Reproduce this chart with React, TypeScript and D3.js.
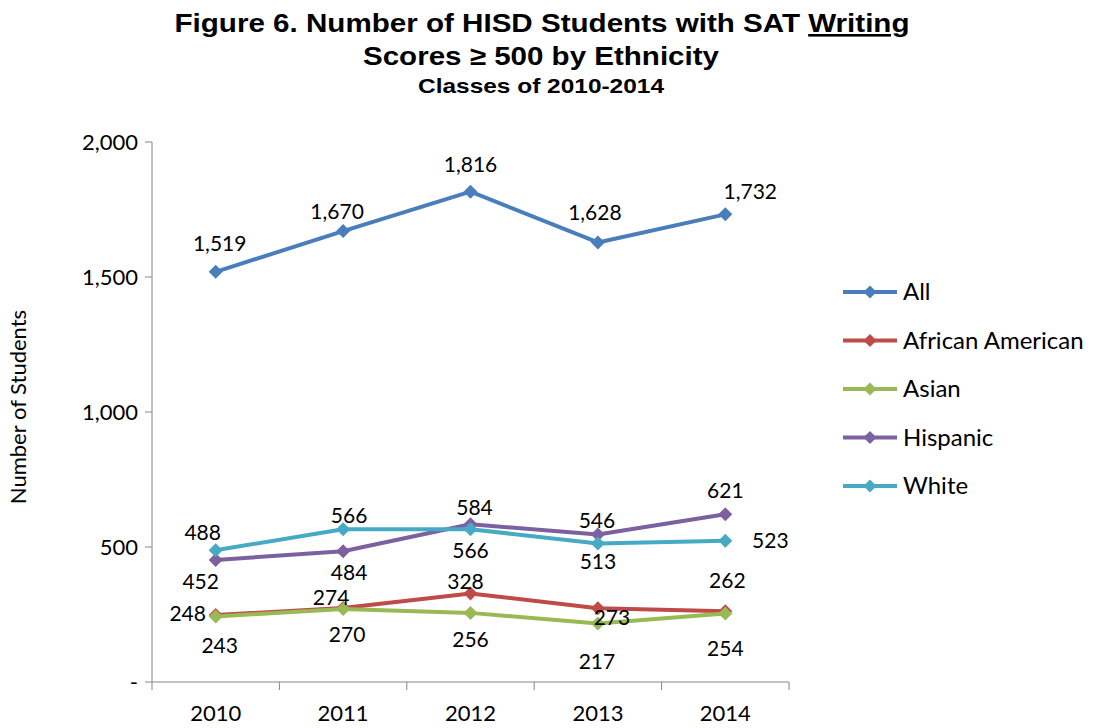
import React from "react";
import * as d3 from "d3";

const years = ["2010", "2011", "2012", "2013", "2014"];
const seriesNames = ["All", "African American", "Asian", "Hispanic", "White"];
const allValues = [1519, 1670, 1816, 1628, 1732];
const africanAmericanValues = [248, 274, 328, 273, 262];
const asianValues = [243, 270, 256, 217, 254];
const hispanicValues = [452, 484, 584, 546, 621];
const whiteValues = [488, 566, 566, 513, 523];
const yTicks = [0, 500, 1000, 1500, 2000];

const colors = ["#4A7EBB", "#BE4B48", "#98B954", "#7D60A0", "#46AAC5"];

// label nudges [dx, dy] from each point, matching the hand-placed labels
const labelNudge = [
  [[4, -28], [-6, -19], [0, -27], [-3, -30], [25, -23]],
  [[-28, -1], [-12, -10], [-5, -12], [14, 9], [2, -31]],
  [[4, 29], [4, 26], [0, 27], [-1, 38], [0, 35]],
  [[-15, 22], [6, 21], [4, -17], [-1, -14], [0, -24]],
  [[-13, -18], [6, -14], [0, 21], [0, 18], [45, 0]],
];

const W = 1097;
const H = 728;
const left = 152;
const right = 789;
const top = 142;
const bottom = 682;

export default function App() {
  const series = [allValues, africanAmericanValues, asianValues, hispanicValues, whiteValues];
  const x = d3.scaleBand().domain(years).range([left, right]);
  const y = d3.scaleLinear().domain([0, 2000]).range([bottom, top]);
  const cx = (yr: string) => (x(yr) as number) + x.bandwidth() / 2;
  const line = d3
    .line<number>()
    .x((_, i) => cx(years[i]))
    .y((d) => y(d));
  const fmt = d3.format(",");
  const diamond = (px: number, py: number, r = 7) =>
    `M${px},${py - r}L${px + r},${py}L${px},${py + r}L${px - r},${py}Z`;
  const axisColor = "#868686";
  const labelFont = "Lato, 'DejaVu Sans', sans-serif";

  return (
    <svg
      width={W}
      height={H}
      style={{ position: "absolute", left: 0, top: 0, background: "#fff" }}
    >
      <g fontFamily="'Liberation Sans', Arial, sans-serif" fontWeight="bold" textAnchor="middle" fill="#000">
        <text x={542} y={32} fontSize={26} textLength={735} lengthAdjust="spacingAndGlyphs">
          Figure 6. Number of HISD Students with SAT{" "}
          <tspan style={{ textDecoration: "underline" }}>Writing</tspan>
        </text>
        <text x={541} y={65} fontSize={26} textLength={356} lengthAdjust="spacingAndGlyphs">
          Scores ≥ 500 by Ethnicity
        </text>
        <text x={541} y={93} fontSize={21} textLength={246} lengthAdjust="spacingAndGlyphs">
          Classes of 2010-2014
        </text>
      </g>

      {/* y axis */}
      <line x1={left} x2={left} y1={top} y2={bottom} stroke={axisColor} strokeWidth={1} />
      {yTicks.map((t) => (
        <g key={t}>
          <line x1={left - 7} x2={left} y1={y(t)} y2={y(t)} stroke={axisColor} />
          <text
            x={left - 14}
            y={y(t)}
            dy="0.35em"
            textAnchor="end"
            fontSize={22}
            fontFamily={labelFont}
            fill="#000"
          >
            {t === 0 ? "-" : fmt(t)}
          </text>
        </g>
      ))}
      <text
        transform={`translate(26,${(top + bottom) / 2 - 5}) rotate(-90)`}
        textAnchor="middle"
        fontSize={22}
        fontFamily={labelFont}
        fill="#000"
      >
        Number of Students
      </text>

      {/* x axis */}
      <line x1={left} x2={right} y1={bottom} y2={bottom} stroke={axisColor} />
      {years.map((yr) => (
        <line
          key={"t" + yr}
          x1={x(yr) as number}
          x2={x(yr) as number}
          y1={bottom}
          y2={bottom + 8}
          stroke={axisColor}
        />
      ))}
      <line x1={right} x2={right} y1={bottom} y2={bottom + 8} stroke={axisColor} />
      {years.map((yr) => (
        <text
          key={"l" + yr}
          x={cx(yr)}
          y={721}
          textAnchor="middle"
          fontSize={22}
          fontFamily={labelFont}
          fill="#000"
        >
          {yr}
        </text>
      ))}

      {/* series */}
      {series.map((vals, s) => (
        <g key={seriesNames[s]}>
          <path d={line(vals) || ""} fill="none" stroke={colors[s]} strokeWidth={4} strokeLinejoin="round" />
          {vals.map((v, i) => (
            <path key={i} d={diamond(cx(years[i]), y(v))} fill={colors[s]} />
          ))}
        </g>
      ))}
      {series.map((vals, s) =>
        vals.map((v, i) => (
          <text
            key={`lab${s}-${i}`}
            x={cx(years[i]) + labelNudge[s][i][0]}
            y={y(v) + labelNudge[s][i][1]}
            dy="0.35em"
            textAnchor="middle"
            fontSize={21}
            fontFamily={labelFont}
            fill="#000"
          >
            {fmt(v)}
          </text>
        ))
      )}

      {/* legend */}
      {seriesNames.map((name, s) => {
        const ly = 292 + s * 48.5;
        return (
          <g key={"lg" + name}>
            <line x1={843} x2={897} y1={ly} y2={ly} stroke={colors[s]} strokeWidth={4} />
            <path d={diamond(870, ly, 6.5)} fill={colors[s]} />
            <text x={903} y={ly} dy="0.35em" fontSize={24} fontFamily={labelFont} fill="#000">
              {name}
            </text>
          </g>
        );
      })}
    </svg>
  );
}
